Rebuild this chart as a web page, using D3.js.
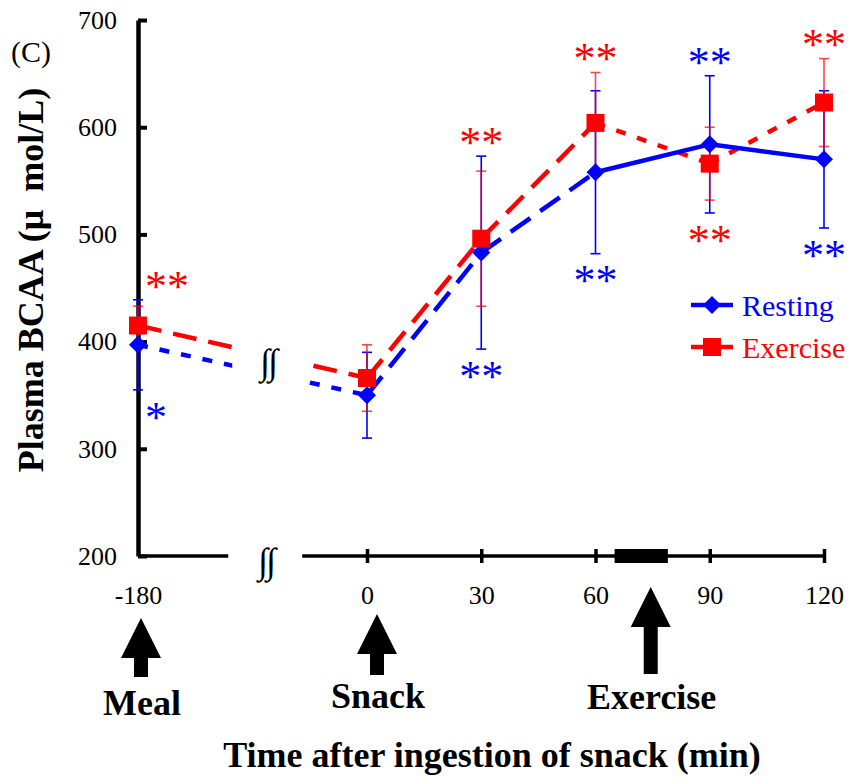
<!DOCTYPE html>
<html>
<head>
<meta charset="utf-8">
<script src="https://cdn.jsdelivr.net/npm/d3@7"></script>
<style>
  html, body { margin: 0; padding: 0; background: #fff; }
  svg { display: block; }
  text { font-family: "Liberation Serif", "Times New Roman", Times, serif; }
</style>
</head>
<body>
<svg id="chart" width="850" height="778"></svg>
<script>
// Sampling times (min after snack) and plasma BCAA, mean and SD (µmol/L)
const times = [-180, 0, 30, 60, 90, 120];
const restingMean = [397, 350, 483, 558, 584, 570];
const restingSD = [42, 40, 90, 76, 64, 64];
const exerciseMean = [415, 366, 496, 604, 566, 623];
const exerciseSD = [18, 31, 63, 47, 34, 41];

const yTicks = [200, 300, 400, 500, 600, 700];
const xTicks = [-180, 0, 30, 60, 90, 120];

// line style of each segment between consecutive samples
const restingStyles = ["dot", "dash", "dash", "solid", "solid"];
const exerciseStyles = ["dash", "dash", "dash", "dot", "dot"];

// significance marks: series, time, text, side of the error bars
const sigMarks = [
  ["exercise", -180, "**", "above"],
  ["resting", -180, "*", "below"],
  ["exercise", 30, "**", "above"],
  ["resting", 30, "**", "below"],
  ["exercise", 60, "**", "above"],
  ["resting", 60, "**", "below"],
  ["resting", 90, "**", "above"],
  ["exercise", 90, "**", "below"],
  ["exercise", 120, "**", "above"],
  ["resting", 120, "**", "below"]
];

// protocol events shown under the time axis
const eventLabels = ["Meal", "Snack", "Exercise"];
const eventTimes = [-180, 0, 74.5];
const exercisePeriod = [65, 79];
const axisBreakTime = -80;

const BLUE = "#0000ff", RED = "#ff0000";

const svg = d3.select("#chart");

// broken time axis: the pre-snack meal is compressed into the first interval
const x = d3.scaleLinear().domain([-180, 0, 120]).range([138, 367, 824]);
const y = d3.scaleLinear().domain([200, 700]).range([556, 20]);

const breakX = x(axisBreakTime);
const breakHalf = 37;

// ---- y axis
const yAxis = svg.append("g")
  .attr("transform", `translate(${x(-180)},0)`)
  .call(d3.axisLeft(y).tickValues(yTicks).tickSizeInner(-9).tickSizeOuter(0).tickPadding(21));
yAxis.select(".domain").attr("stroke", "#000").attr("stroke-width", 4.5);
yAxis.selectAll(".tick line").attr("stroke", "#000").attr("stroke-width", 4);
yAxis.selectAll(".tick text").attr("font-size", 26).attr("fill", "#000")
  .style("font-family", '"Liberation Serif", "Times New Roman", serif');

// ---- x axis
const xAxis = svg.append("g")
  .attr("transform", `translate(0,${y(200)})`)
  .call(d3.axisBottom(x).tickValues(xTicks).tickFormat(d3.format("d"))
        .tickSizeInner(7).tickSizeOuter(0).tickPadding(22.5));
xAxis.select(".domain").remove();
xAxis.selectAll(".tick line")
  .attr("y1", -7).attr("stroke", "#000").attr("stroke-width", 3.5)
  .attr("display", d => d === -180 ? "none" : null);
xAxis.selectAll(".tick text").attr("font-size", 26).attr("fill", "#000")
  .text(d => d === -180 ? "-180" : d)
  .style("font-family", '"Liberation Serif", "Times New Roman", serif');

const axisY = y(200);
svg.append("line").attr("x1", x(-180)).attr("x2", breakX - breakHalf)
  .attr("y1", axisY).attr("y2", axisY).attr("stroke", "#000").attr("stroke-width", 3.5);
svg.append("line").attr("x1", breakX + breakHalf).attr("x2", x(120))
  .attr("y1", axisY).attr("y2", axisY).attr("stroke", "#000").attr("stroke-width", 3.5);

// exercise bout on the time axis
svg.append("rect")
  .attr("x", x(exercisePeriod[0])).attr("width", x(exercisePeriod[1]) - x(exercisePeriod[0]))
  .attr("y", axisY - 7).attr("height", 14).attr("fill", "#000");

// break symbols on the axis and on the data lines
svg.append("text").attr("x", breakX + 1).attr("y", axisY + 17)
  .attr("text-anchor", "middle").attr("font-size", 36).attr("letter-spacing", -2).text("∫∫");
svg.append("text").attr("x", breakX + 3).attr("y", 374)
  .attr("text-anchor", "middle").attr("font-size", 36).attr("letter-spacing", -2).text("∫∫");

// clip that leaves a gap where the time axis is broken
const defs = svg.append("defs");
const clip = defs.append("clipPath").attr("id", "gapClip");
clip.append("rect").attr("x", 0).attr("y", 0).attr("width", breakX + 4 - breakHalf).attr("height", 778);
clip.append("rect").attr("x", breakX + 4 + breakHalf).attr("y", 0).attr("width", 850).attr("height", 778);

const dashes = { dash: "24,12", dot: "10,12", solid: null };

function drawSeries(means, styles, color) {
  const g = svg.append("g");
  for (let i = 0; i < times.length - 1; i++) {
    const seg = g.append("line")
      .attr("x1", x(times[i])).attr("y1", y(means[i]))
      .attr("x2", x(times[i + 1])).attr("y2", y(means[i + 1]))
      .attr("stroke", color).attr("stroke-width", 4.5)
      .attr("stroke-dasharray", dashes[styles[i]]);
    if (times[i] < axisBreakTime && times[i + 1] > axisBreakTime) seg.attr("clip-path", "url(#gapClip)");
  }
}
drawSeries(exerciseMean, exerciseStyles, RED);
drawSeries(restingMean, restingStyles, BLUE);

function drawErrors(means, sds, color, opacity) {
  const g = svg.append("g").attr("stroke", color).attr("stroke-width", 1.6).attr("opacity", opacity);
  times.forEach((t, i) => {
    const cx = x(t), top = y(means[i] + sds[i]), bot = y(means[i] - sds[i]);
    g.append("line").attr("x1", cx).attr("x2", cx).attr("y1", top).attr("y2", bot);
    g.append("line").attr("x1", cx - 5).attr("x2", cx + 5).attr("y1", top).attr("y2", top);
    g.append("line").attr("x1", cx - 5).attr("x2", cx + 5).attr("y1", bot).attr("y2", bot);
  });
}
drawErrors(restingMean, restingSD, BLUE, 1);
drawErrors(exerciseMean, exerciseSD, RED, 0.72);

const diamond = "M0,-9L9,0L0,9L-9,0Z";
svg.append("g").selectAll("path").data(times).join("path")
  .attr("d", diamond).attr("fill", BLUE)
  .attr("transform", (t, i) => `translate(${x(t)},${y(restingMean[i])})`);
svg.append("g").selectAll("rect").data(times).join("rect")
  .attr("x", (t) => x(t) - 9).attr("y", (t, i) => y(exerciseMean[i]) - 9)
  .attr("width", 18).attr("height", 18).attr("fill", RED);

// significance asterisks
const starSize = 44;
sigMarks.forEach(([series, t, txt, side]) => {
  const i = times.indexOf(t);
  const top = Math.min(y(restingMean[i] + restingSD[i]), y(exerciseMean[i] + exerciseSD[i]));
  const bot = Math.max(y(restingMean[i] - restingSD[i]), y(exerciseMean[i] - exerciseSD[i]));
  const cy = side === "above" ? top - 19 : bot + 22;
  const atAxis = t === times[0];
  svg.append("text")
    .attr("x", atAxis ? x(t) + 7 : x(t))
    .attr("y", cy + starSize * 0.45)
    .attr("text-anchor", atAxis ? "start" : "middle")
    .attr("font-size", starSize)
    .attr("fill", series === "resting" ? BLUE : RED)
    .text(txt);
});

// legend
const legend = [["Resting", BLUE, "diamond"], ["Exercise", RED, "square"]];
legend.forEach(([name, color, shape], k) => {
  const ly = 305 + k * 42;
  svg.append("line").attr("x1", 691).attr("x2", 733).attr("y1", ly).attr("y2", ly)
    .attr("stroke", color).attr("stroke-width", 4.5);
  if (shape === "diamond") svg.append("path").attr("d", diamond).attr("fill", color)
    .attr("transform", `translate(712,${ly})`);
  else svg.append("rect").attr("x", 703).attr("y", ly - 9).attr("width", 18).attr("height", 18).attr("fill", color);
  svg.append("text").attr("x", 742).attr("y", ly + 11).attr("font-size", 30).attr("fill", color).text(name);
});

// event arrows and labels
const arrowNudge = [3, 10, 0];
const arrowTip = [618, 614, 587];
const arrowBottom = [677, 675, 674];
const labelBase = [715, 708, 709];
eventLabels.forEach((lab, k) => {
  const ax = x(eventTimes[k]) + arrowNudge[k];
  const tip = arrowTip[k], head = tip + 40, bot = arrowBottom[k];
  svg.append("path")
    .attr("d", `M${ax},${tip}L${ax + 20},${head}L${ax + 7},${head}L${ax + 7},${bot}L${ax - 7},${bot}L${ax - 7},${head}L${ax - 20},${head}Z`)
    .attr("fill", "#000");
  svg.append("text").attr("x", ax + 1).attr("y", labelBase[k]).attr("text-anchor", "middle")
    .attr("font-size", 36).attr("font-weight", "bold").text(lab);
});

// axis titles
svg.append("text").attr("x", 492).attr("y", 767).attr("text-anchor", "middle")
  .attr("font-size", 36).attr("font-weight", "bold").text("Time after ingestion of snack (min)");
svg.append("text").attr("transform", "translate(43,280) rotate(-90)")
  .attr("text-anchor", "middle").attr("font-size", 36).attr("font-weight", "bold")
  .style("white-space", "pre").text("Plasma BCAA (μ  mol/L)");

// panel label
svg.append("text").attr("x", 31).attr("y", 62).attr("text-anchor", "middle")
  .attr("font-size", 30).text("(C)");
</script>
</body>
</html>
